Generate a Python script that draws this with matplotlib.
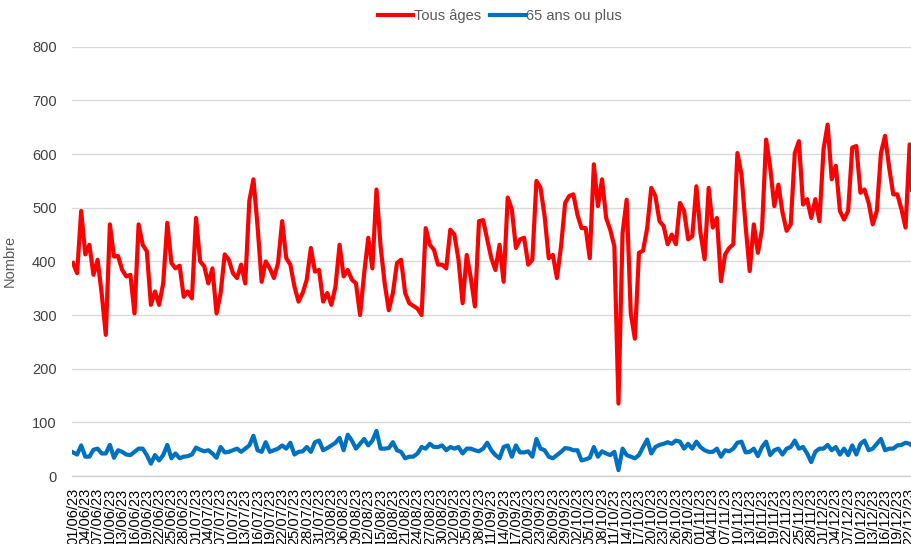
import numpy as np
import pandas as pd
import matplotlib
matplotlib.use('Agg')
import matplotlib.pyplot as plt

#------------------------------------------------------------------------------
# Daily counts from 01/06/23 (picture is cropped on the right around 23/12/23)

start_date = '2023-06-01'

tous_ages = [
    397, 378, 494, 413, 431, 375, 403, 340, 263, 469,
    409, 410, 384, 372, 375, 303, 469, 431, 419, 319,
    344, 319, 359, 472, 397, 387, 392, 334, 344, 331,
    481, 400, 391, 359, 387, 303, 341, 413, 403, 378,
    369, 394, 359, 513, 553, 466, 362, 400, 387, 369,
    397, 475, 406, 394, 353, 325, 341, 366, 425, 381,
    384, 325, 341, 319, 353, 431, 372, 384, 366, 359,
    300, 378, 444, 387, 534, 428, 359, 309, 341, 397,
    403, 341, 322, 317, 312, 300, 462, 431, 422, 394,
    394, 387, 459, 450, 403, 322, 412, 369, 316, 475,
    477, 441, 406, 384, 431, 362, 519, 497, 425, 441,
    444, 394, 403, 550, 537, 484, 406, 412, 369, 428,
    509, 522, 525, 487, 462, 462, 406, 581, 503, 553,
    481, 459, 428, 135, 453, 515, 303, 256, 416, 420,
    462, 537, 522, 475, 466, 432, 450, 432, 509, 494,
    441, 447, 540, 453, 404, 537, 463, 481, 363, 413,
    425, 432, 602, 562, 466, 382, 469, 416, 460, 627,
    575, 503, 543, 491, 457, 469, 602, 624, 506, 516,
    481, 516, 475, 609, 655, 553, 578, 494, 478, 494,
    612, 615, 528, 534, 509, 469, 494, 602, 634, 575,
    525, 525, 497, 463, 618, 470,
]

plus_65 = [
    44, 40, 57, 36, 36, 49, 51, 42, 42, 58,
    34, 48, 45, 40, 39, 45, 51, 51, 39, 23,
    39, 29, 39, 58, 33, 42, 33, 36, 37, 40,
    53, 49, 46, 48, 42, 34, 54, 44, 45, 48,
    51, 45, 51, 57, 75, 48, 45, 63, 45, 48,
    51, 57, 51, 62, 40, 45, 46, 54, 45, 63,
    66, 48, 52, 57, 62, 71, 48, 77, 66, 51,
    60, 69, 57, 66, 84, 51, 51, 52, 63, 48,
    45, 33, 36, 36, 42, 54, 51, 60, 54, 54,
    57, 48, 54, 51, 54, 42, 51, 51, 48, 46,
    51, 62, 48, 39, 33, 54, 57, 36, 57, 44,
    44, 46, 36, 69, 51, 48, 36, 33, 39, 45,
    52, 51, 48, 48, 29, 31, 34, 54, 36, 46,
    42, 39, 45, 11, 51, 39, 36, 33, 39, 54,
    68, 42, 54, 58, 60, 63, 60, 66, 64, 51,
    60, 51, 64, 54, 48, 45, 45, 51, 36, 48,
    46, 51, 62, 64, 44, 45, 51, 37, 54, 64,
    39, 48, 51, 40, 51, 54, 66, 51, 54, 42,
    26, 45, 51, 51, 58, 48, 54, 40, 51, 39,
    57, 40, 60, 66, 48, 51, 60, 69, 48, 51,
    51, 57, 58, 62, 60, 54,
]

dates = pd.date_range(start_date, periods=len(tous_ages), freq='D')
date_labels = [d.strftime('%d/%m/%y') for d in dates]

#------------------------------------------------------------------------------

plt.rcParams['font.family'] = ['Liberation Sans', 'DejaVu Sans']

fig = plt.figure(figsize=(9.12, 5.44), dpi=100)
# axes run past the right border: the reference is cropped there
ax = fig.add_axes([0.0789, 0.125, 0.968, 0.789])

xx = np.arange(len(dates))
ax.plot(xx, tous_ages, color='#FF0000', lw=3.0, solid_joinstyle='round',
        label='Tous âges', zorder=3)
ax.plot(xx, plus_65, color='#0070C0', lw=3.0, solid_joinstyle='round',
        label='65 ans ou plus', zorder=3)

ax.set_xlim(-0.25, 215)
ax.set_ylim(0, 800)
ax.set_yticks(np.arange(0, 801, 100))
ax.grid(axis='y', color='#d9d9d9', lw=1)
ax.set_axisbelow(True)

ax.set_xticks(xx[::3])
ax.set_xticklabels(date_labels[::3], rotation=90, fontsize=10.5, color='#000000')
ax.tick_params(axis='x', length=0, pad=8.5)
ax.tick_params(axis='y', length=0, pad=11, labelsize=10.5, labelcolor='#404040')

for side in ['top', 'right', 'left']:
    ax.spines[side].set_visible(False)
ax.spines['bottom'].set_color('#d0d0d0')
ax.spines['bottom'].set_linewidth(1)

ax.set_ylabel('Nombre', fontsize=10.5, color='#595959')
ax.yaxis.set_label_coords(-0.0623, 0.5)

fig.legend(loc='center', bbox_to_anchor=(0.548, 0.971), ncol=2, frameon=False,
           fontsize=10.5, labelcolor='#595959', handlelength=2.4,
           handletextpad=0.1, columnspacing=0.6)

fig.savefig('out.png', dpi=100)
